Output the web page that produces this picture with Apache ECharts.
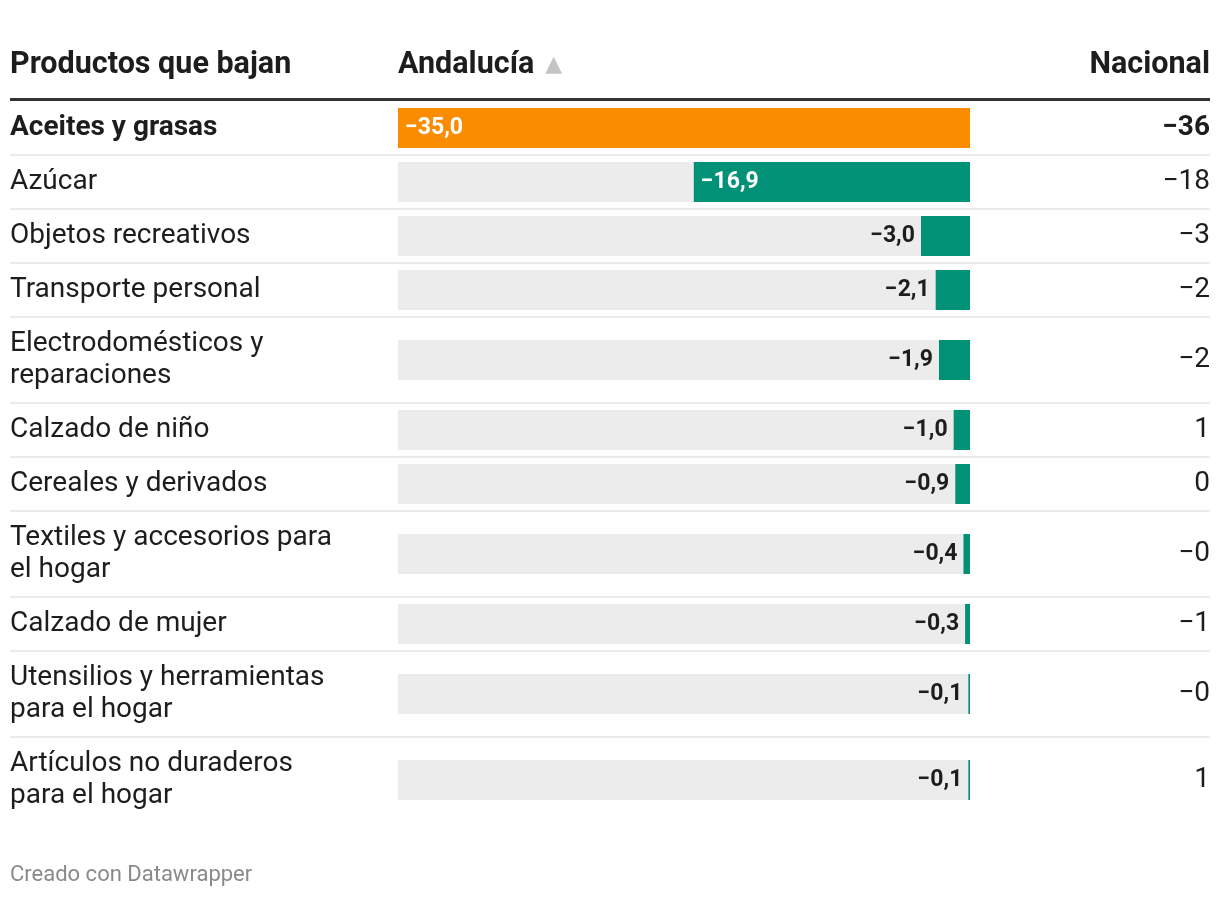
<!DOCTYPE html>
<html><head><meta charset="utf-8">
<script src="https://cdn.jsdelivr.net/npm/echarts@6/dist/echarts.min.js"></script>
<style>html,body{margin:0;padding:0;background:#fff}#c{width:1220px;height:898px}</style>
</head><body><div id="c"></div>
<script>
// ---- data ----
const categories = [
  'Aceites y grasas',
  'Azúcar',
  'Objetos recreativos',
  'Transporte personal',
  'Electrodomésticos y reparaciones',
  'Calzado de niño',
  'Cereales y derivados',
  'Textiles y accesorios para el hogar',
  'Calzado de mujer',
  'Utensilios y herramientas para el hogar',
  'Artículos no duraderos para el hogar'
];
const andalucia = [-35.0, -16.9, -3.0, -2.1, -1.9, -1.0, -0.9, -0.4, -0.3, -0.1, -0.1];
const nacional = ['−36', '−18', '−3', '−2', '−2', '1', '0', '−0', '−1', '−0', '1'];
const highlighted = ['Aceites y grasas'];
const headers = ['Productos que bajan', 'Andalucía', 'Nacional'];
const footer = 'Creado con Datawrapper';

// ---- layout / style ----
const FONT = 'Roboto';
const LABEL_SIZE = 28, LINE_H = 32, WRAP_W = 332;
const HEAD_SIZE = 30.5, VAL_SIZE = 23;
const GRID_LEFT = 398, GRID_RIGHT = 250, BAR_H = 40;
const ROW1 = 54, ROW_EXTRA = 32;
const TOP0 = 101;
const ORANGE = '#f98c00', GREEN = '#009177', BG = '#ececec', INK = '#1d1d1d';

const mctx = document.createElement('canvas').getContext('2d');
function wrap(text, bold) {
  mctx.font = (bold ? 'bold ' : '') + LABEL_SIZE + 'px ' + FONT;
  const words = text.split(' ');
  const out = []; let cur = '';
  for (const w of words) {
    const t = cur ? cur + ' ' + w : w;
    if (mctx.measureText(t).width > WRAP_W && cur) { out.push(cur); cur = w; } else cur = t;
  }
  out.push(cur);
  return out;
}
const fmt = v => (v < 0 ? '−' : '') + Math.abs(v).toFixed(1).replace('.', ',');
const xMin = Math.min(...andalucia);
const plotW = 1220 - GRID_LEFT - GRID_RIGHT;

const grids = [], xAxes = [], yAxes = [], series = [], graphics = [];
let y = TOP0;
const boundaries = [];
categories.forEach((cat, i) => {
  const bold = highlighted.includes(cat);
  const lines = wrap(cat, bold);
  const h = ROW1 + (lines.length - 1) * ROW_EXTRA;
  const center = y + h / 2;
  grids.push({ left: GRID_LEFT, right: GRID_RIGHT, top: center - BAR_H / 2, height: BAR_H });
  xAxes.push({ type: 'value', gridIndex: i, min: xMin, max: 0, show: false });
  const labStyle = { fontFamily: FONT, fontSize: LABEL_SIZE, color: INK, fontWeight: bold ? 'bold' : 'normal', padding: [5, 0, 0, 0] };
  yAxes.push({
    type: 'category', gridIndex: i, data: [cat], position: 'left',
    axisLine: { show: false }, axisTick: { show: false }, splitLine: { show: false },
    axisLabel: Object.assign({ margin: GRID_LEFT - 10, align: 'left', lineHeight: LINE_H,
      formatter: () => lines.join('\n') }, labStyle)
  });
  yAxes.push({
    type: 'category', gridIndex: i, data: [nacional[i]], position: 'right',
    axisLine: { show: false }, axisTick: { show: false }, splitLine: { show: false },
    axisLabel: Object.assign({ margin: GRID_RIGHT - 10, align: 'right' }, labStyle)
  });
  const v = andalucia[i];
  const barPx = Math.abs(v) / Math.abs(xMin) * plotW;
  const inside = barPx > 90;
  series.push({
    type: 'bar', xAxisIndex: i, yAxisIndex: 2 * i, barWidth: '100%',
    showBackground: true, backgroundStyle: { color: BG },
    itemStyle: { color: bold ? ORANGE : GREEN },
    label: {
      show: true, position: inside ? 'insideLeft' : 'left', distance: inside ? 7 : 6,
      formatter: p => fmt(p.value), padding: [3, 0, 0, 0],
      fontFamily: FONT, fontSize: VAL_SIZE, fontWeight: 'bold', color: inside ? '#fff' : INK
    },
    silent: true, animation: false,
    data: [v]
  });
  y += h;
  if (i < categories.length - 1) boundaries.push(y);
});

// header
const HEAD_Y = 65;
const headStyle = { fontFamily: FONT, fontSize: HEAD_SIZE, fontWeight: 'bold', fill: INK, verticalAlign: 'middle' };
graphics.push({ type: 'text', x: 10, y: HEAD_Y, style: Object.assign({ text: headers[0] }, headStyle) });
graphics.push({ type: 'text', x: GRID_LEFT, y: HEAD_Y, style: {
  text: '{h|' + headers[1] + '}{t|▲}', verticalAlign: 'middle',
  rich: { h: { fontFamily: FONT, fontSize: HEAD_SIZE, fontWeight: 'bold', fill: INK },
          t: { fontFamily: 'DejaVu Sans', fontSize: 22, fill: '#c4c4c4', padding: [0, 0, 0, 11] } }
} });
graphics.push({ type: 'text', x: 1210, y: HEAD_Y, style: Object.assign({ text: headers[2], align: 'right' }, headStyle) });
graphics.push({ type: 'rect', shape: { x: 10, y: 98, width: 1200, height: 3 }, style: { fill: '#333' } });
boundaries.forEach(b => graphics.push({ type: 'rect', shape: { x: 10, y: b - 1, width: 1200, height: 2 }, style: { fill: '#ebebeb' } }));
graphics.push({ type: 'text', x: 10, y: 875, style: { text: footer, fontFamily: FONT, fontSize: 22, fill: '#8a8a8a', verticalAlign: 'middle' } });

const chart = echarts.init(document.getElementById('c'), null, { renderer: 'canvas' });
chart.setOption({
  backgroundColor: '#fff', animation: false,
  grid: grids, xAxis: xAxes, yAxis: yAxes, series: series, graphic: graphics
});
</script></body></html>
